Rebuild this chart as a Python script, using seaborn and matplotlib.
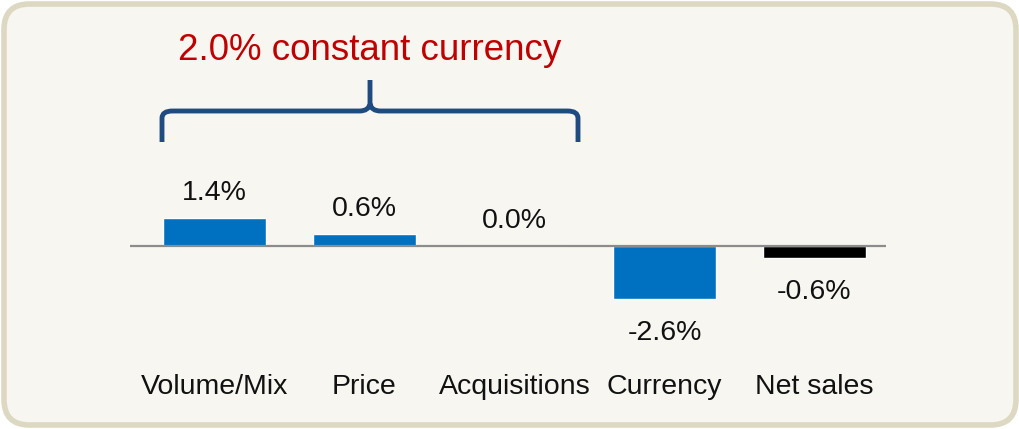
import matplotlib
matplotlib.use("Agg")
import matplotlib.pyplot as plt
import seaborn as sns
import pandas as pd
from matplotlib.patches import FancyBboxPatch
from matplotlib.path import Path
from matplotlib.patches import PathPatch

categories = ["Volume/Mix", "Price", "Acquisitions", "Currency", "Net sales"]
values = [1.4, 0.6, 0.0, -2.6, -0.6]
value_labels = ["1.4%", "0.6%", "0.0%", "-2.6%", "-0.6%"]
bar_colors = ["#0070c0", "#0070c0", "#0070c0", "#0070c0", "#000000"]
title_text = "2.0% constant currency"

sns.set_theme(style="white")
plt.rcParams["font.family"] = ["Liberation Sans", "DejaVu Sans"]

W, H, DPI = 1020, 429, 100
fig = plt.figure(figsize=(W / DPI, H / DPI), dpi=DPI)
fig.patch.set_facecolor("white")

# rounded panel background
panel = FancyBboxPatch((4 / W, 4 / H), (W - 8) / W, (H - 8) / H,
                       boxstyle="round,pad=0,rounding_size=0.025",
                       transform=fig.transFigure, facecolor="#f7f6f1",
                       edgecolor="#ddd8c2", linewidth=4, zorder=-5,
                       mutation_aspect=W / H)
fig.patches.append(panel)

ax = fig.add_axes([0, 0, 1, 1])
ax.set_zorder(1)
ax.set_facecolor("none")
ax.patch.set_alpha(0)

df = pd.DataFrame({"cat": categories, "val": values})
sns.barplot(data=df, x="cat", y="val", hue="cat", palette=bar_colors,
            legend=False, width=0.69, ax=ax, saturation=1, zorder=2)

# scale: category step 150 px, 20.2 px per percentage point, baseline at y=246 px
step = 150.0
x0 = 214.5
ax.set_xlim(-x0 / step, (W - x0) / step)
ppu = 20.2
base = 246.0
ax.set_ylim(-(H - base) / ppu, base / ppu)
ax.axis("off")

# baseline
ax.plot([(130 - x0) / step, (886 - x0) / step], [0, 0], color="#8c8c8c",
        lw=1.6, zorder=3, solid_capstyle="butt")

# value labels
pt = 72.0 / DPI
for i, (v, lab) in enumerate(zip(values, value_labels)):
    off = 25 if v >= 0 else -34
    ax.annotate(lab, (i, v), xytext=(0, off * pt), textcoords="offset points",
                ha="center", va="center", fontsize=20.5, color="#111111")

# category labels
for i, c in enumerate(categories):
    ax.text(i, (base - 387) / ppu, c, ha="center", va="center",
            fontsize=20.5, color="#111111")

# brace over first three categories
bl = (162 - x0) / step
br = (578 - x0) / step
bm = (bl + br) / 2
y_tip = (base - 142) / ppu
y_bar = (base - 111) / ppu
y_top = (base - 80) / ppu
r = 0.07
ry = 0.35
verts = [
    (bl, y_tip), (bl, y_bar - ry), (bl, y_bar), (bl + r, y_bar),
    (bm - r, y_bar), (bm - 0.01, y_bar), (bm, y_bar + ry), (bm, y_top),
    (bm, y_bar + ry), (bm + 0.01, y_bar), (bm + r, y_bar),
    (br - r, y_bar), (br, y_bar), (br, y_bar - ry), (br, y_tip),
]
codes = [Path.MOVETO, Path.LINETO, Path.CURVE3, Path.CURVE3,
         Path.LINETO, Path.CURVE3, Path.CURVE3, Path.LINETO,
         Path.MOVETO, Path.CURVE3, Path.CURVE3,
         Path.LINETO, Path.CURVE3, Path.CURVE3, Path.LINETO]
ax.add_patch(PathPatch(Path(verts, codes), facecolor="none",
                       edgecolor="#1f4b80", lw=3.5, zorder=4,
                       capstyle="butt", joinstyle="round"))

ax.text(bm, (base - 51) / ppu, title_text, ha="center", va="center",
        fontsize=26.5, color="#c00000")

fig.savefig("out.png", dpi=DPI, facecolor=fig.get_facecolor())
